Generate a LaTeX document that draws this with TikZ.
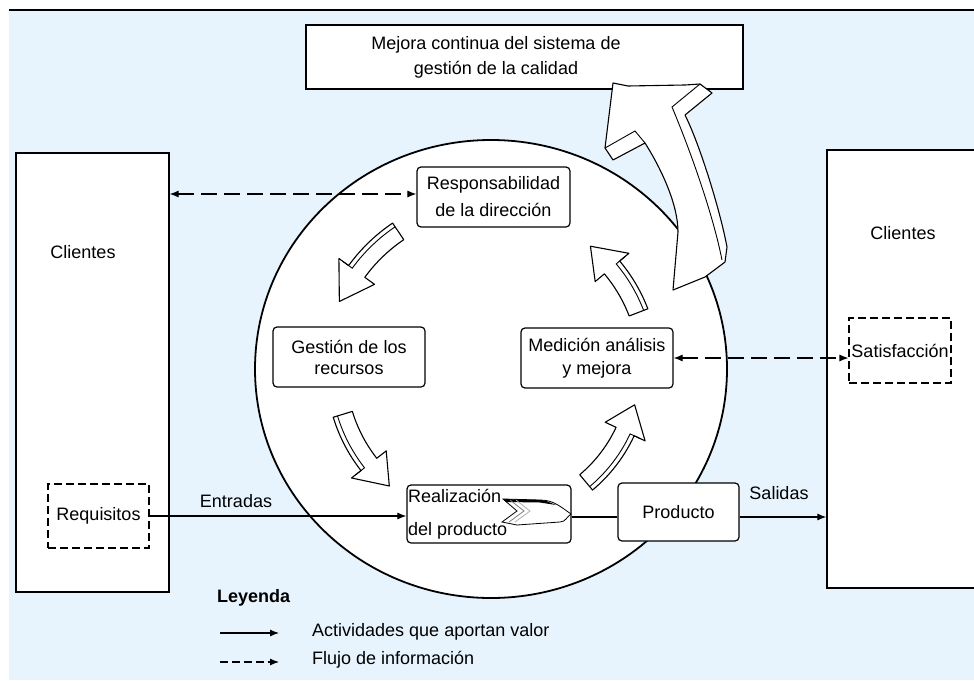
\documentclass[tikz,border=0pt]{standalone}
\usepackage{fontspec}
\setmainfont{Liberation Sans}
\usetikzlibrary{arrows.meta,shapes.geometric}
\definecolor{bgblue}{RGB}{232,244,253}
\newcommand\ringarrow[4]{%
  \pgfmathsetmacro\rao{#4+10}%
  \pgfmathsetmacro\rai{#4-10}%
  \pgfmathsetmacro\rhout{#4+22}%
  \pgfmathsetmacro\rhin{#4-22}%
  \pgfmathsetmacro\ral{#4+5.5}%
  \pgfmathsetmacro\rhl{#4+17}%
  \draw[blockarr] plot[domain=#1:#2,samples=16] (\x:\rao) -- (#2:\rhout) -- (#3:#4) -- (#2:\rhin) -- (#2:\rai) -- plot[domain=#2:#1,samples=16] (\x:\rai) -- cycle;
  \draw[face] plot[domain=#1:#2,samples=16] (\x:\ral) -- (#2:\rhl);
}
\begin{document}
\begin{tikzpicture}[x=1pt,y=-1pt,
  every node/.style={font=\fontsize{18}{22}\selectfont, inner sep=0pt},
  box/.style={draw, line width=1.2pt, fill=white},
  rbox/.style={box, rounded corners=4pt},
  dbox/.style={draw, line width=1.1pt, fill=white, dash pattern=on 8pt off 4pt},
  conn/.style={line width=1.1pt},
  tip/.style={-{Latex[length=9pt,width=7pt]}},
  both/.style={{Latex[length=9pt,width=7pt]}-{Latex[length=9pt,width=7pt]}},
  dline/.style={conn, dash pattern=on 16pt off 7pt},
  blockarr/.style={draw, fill=white, line width=1.1pt, line join=round},
  face/.style={line width=0.9pt}
]
\useasboundingbox (0,0) rectangle (974,680);
\fill[bgblue] (9,11) rectangle (974,680);
\draw[line width=2pt] (9,10) -- (974,10);

% customers
\node[box, minimum width=153pt, minimum height=439pt] (lcl) at (92.5,372.5) {};
\node (lclt) at (83,252) {Clientes};
\node[dbox, minimum width=101pt, minimum height=64pt] (req) at (98.5,516) {Requisitos};
\node[box, minimum width=170pt, minimum height=438pt] (rcl) at (912,369) {};
\node (rclt) at (903,233) {Clientes};
\node[dbox, minimum width=102pt, minimum height=65pt] (sat) at (900,350.5) {Satisfacción};

% top box
\node[box, minimum width=437pt, minimum height=64pt] (mej) at (524.5,57) {};
\node[align=center, font=\fontsize{18}{25}\selectfont] (mejt) at (496,57) {Mejora continua del sistema de\\gestión de la calidad};

% circle
\node[draw, ellipse, line width=1.8pt, fill=white, minimum width=472pt, minimum height=458pt] (cyc) at (491,369) {};

% big arrow
\draw[blockarr] (673,290) -- (705,277) -- (725,262) -- (727,247)
  .. controls (720,210) and (700,145) .. (685,115) -- (712,93) -- (700,84) -- (685,85) -- (628,86) -- (613,83)
  -- (605,148) -- (613,160) -- (645,143) .. controls (662,170) and (678,205) .. (678,232) -- cycle;
\draw[face] (700,84) -- (672,107) .. controls (688,145) and (712,210) .. (722,260);
\draw[face] (605,148) -- (635,131) -- (645,143);

% small cycle arrows
\begin{scope}[shift={(491,369)}]
  \ringarrow{236}{216}{204}{166}
  \ringarrow{163}{142}{131}{155}
  \ringarrow{50}{25}{14}{148}
  \ringarrow{339}{320}{309}{158}
\end{scope}

% process boxes
\node[rbox, minimum width=153pt, minimum height=60pt, align=center, font=\fontsize{18}{27}\selectfont] (resp) at (493.5,197) {Responsabilidad\\de la dirección};
\node[rbox, minimum width=152pt, minimum height=60pt, align=center, font=\fontsize{18}{21}\selectfont] (ges) at (349,357) {Gestión de los\\recursos};
\node[rbox, minimum width=152pt, minimum height=60pt, align=center, font=\fontsize{18}{23}\selectfont] (med) at (597,358) {Medición análisis\\y mejora};
\node[rbox, minimum width=164pt, minimum height=58pt] (real) at (489,514) {};
\node[anchor=west, align=left, font=\fontsize{18}{33}\selectfont] (realt) at (408,514) {Realización\\del producto};
\node[rbox, minimum width=121pt, minimum height=58pt] (prod) at (678.5,512) {Producto};

% chevron icon
\draw[line width=0.8pt, fill=white] (503,499) -- (540,500) to[out=0,in=145] (571,514) to[out=-145,in=0] (560,522) -- (517,525) -- (502,522) -- (517,511) -- cycle;
\fill (503,499) -- (540,500) to[out=0,in=160] (556,505) -- (540,502.5) -- (506,502) -- cycle;
\draw[gray, line width=0.8pt] (510,500) -- (524,511) -- (509,522);
\draw[gray!60, line width=0.8pt] (516,500) -- (530,511) -- (515,522);

% connectors
\draw[dline, both] (lcl.east |- 0,194) -- (resp.west |- 0,194);
\draw[dline, both] (med.east) -- (sat.west |- med.east);
\draw[conn, tip] (req.east) -- (real.west |- req.east);
\node (ent) at (236,501) {Entradas};
\draw[conn] (real.east |- 0,517) -- (prod.west |- 0,517);
\draw[conn, tip] (prod.east |- 0,517) -- (rcl.west |- 0,517);
\node (sal) at (779,493) {Salidas};

% legend
\node[font=\bfseries\fontsize{18}{22}\selectfont, anchor=west] (ley) at (217,598) {Leyenda};
\coordinate (la1) at (220,633); \coordinate (lb1) at (279,633);
\draw[conn, tip] (la1) -- (lb1);
\node[anchor=west] (lt1) at (312,632) {Actividades que aportan valor};
\coordinate (la2) at (220,662); \coordinate (lb2) at (279,662);
\draw[conn, tip, dash pattern=on 8pt off 4pt] (la2) -- (lb2);
\node[anchor=west] (lt2) at (312,660) {Flujo de información};
\end{tikzpicture}
\end{document}
